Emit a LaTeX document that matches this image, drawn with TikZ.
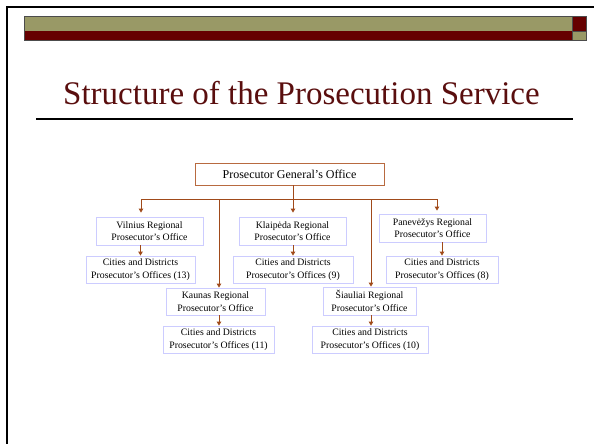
\documentclass[tikz,border=0pt]{standalone}
\usepackage{fontspec}
\setmainfont{Liberation Serif}
\usetikzlibrary{arrows.meta}
\definecolor{olive}{HTML}{999966}
\definecolor{darkred}{HTML}{660000}
\definecolor{titlered}{HTML}{5A0E0E}
\definecolor{conn}{HTML}{A04A1A}
\definecolor{topborder}{HTML}{B86A40}
\definecolor{boxborder}{HTML}{CCCCFF}
\begin{document}
\begin{tikzpicture}[x=1pt,y=-1pt,
  topbox/.style={draw=topborder,line width=0.8pt,minimum width=189pt,minimum height=22pt,inner sep=0pt,font=\fontsize{12}{14}\selectfont},
  orgbox/.style={draw=boxborder,line width=0.8pt,inner sep=0pt,align=center,font=\fontsize{9.8}{12.5}\selectfont},
  conline/.style={draw=conn,line width=0.9pt},
  arr/.style={conline,-{Triangle[length=4pt,width=4.5pt]}}]
\useasboundingbox (0,0) rectangle (594,444);
% frame
\draw[line width=2pt] (7,444) -- (7,7) -- (594,7);
% header bar
\fill[olive] (24,16) rectangle (572,31);
\fill[darkred] (24,31) rectangle (572,40);
\fill[darkred] (572,16) rectangle (586,31);
\fill[olive] (572,31) rectangle (586,40);
\draw[line width=0.4pt,black!70] (24,16) rectangle (586,40);
\draw[line width=0.4pt,black!70] (572,16) -- (572,40) (572,31) -- (586,31);
% title
\node[anchor=base west,inner sep=0pt,text=titlered,font=\fontsize{33}{36}\selectfont] (title) at (63,104) {Structure of the Prosecution Service};
\draw[line width=1.2pt] (36,119) -- (573,119);
% nodes
\node[topbox] (top) at (289.5,174) {Prosecutor General’s Office};
\node[orgbox,minimum width=107pt,minimum height=28pt] (vil) at (149.5,231) {Vilnius Regional\\Prosecutor’s Office};
\node[orgbox,minimum width=109pt,minimum height=27pt] (vilc) at (140.5,269.5) {Cities and Districts\\Prosecutor’s Offices (13)};
\node[orgbox,minimum width=107pt,minimum height=28pt] (kla) at (292.5,231) {Klaipėda Regional\\Prosecutor’s Office};
\node[orgbox,minimum width=120pt,minimum height=27pt] (klac) at (293,269.5) {Cities and Districts\\Prosecutor’s Offices (9)};
\node[orgbox,minimum width=107pt,minimum height=28pt] (pan) at (432.5,228) {Panevėžys Regional\\Prosecutor’s Office};
\node[orgbox,minimum width=112pt,minimum height=27pt] (panc) at (442,269.5) {Cities and Districts\\Prosecutor’s Offices (8)};
\node[orgbox,minimum width=99pt,minimum height=27pt] (kau) at (215.5,301.5) {Kaunas Regional\\Prosecutor’s Office};
\node[orgbox,minimum width=111pt,minimum height=27pt] (kauc) at (218.5,339.5) {Cities and Districts\\Prosecutor’s Offices (11)};
\node[orgbox,minimum width=93pt,minimum height=28pt] (sia) at (369.5,301) {Šiauliai Regional\\Prosecutor’s Office};
\node[orgbox,minimum width=116pt,minimum height=27pt] (siac) at (370,339.5) {Cities and Districts\\Prosecutor’s Offices (10)};
% junctions
\coordinate (h1) at (141,199);
\coordinate (hk) at (219,199);
\coordinate (hs) at (371,199);
\coordinate (h2) at (437,199);
% connectors
\draw[conline] (h1) -- (h2);
\draw[arr,shorten >=4pt] (top.south -| 293,0) -- (293,0 |- kla.north);
\draw[arr,shorten >=4pt] (h1) -- (h1 |- vil.north);
\draw[arr,shorten >=3pt] (h2) -- (h2 |- pan.north);
\draw[arr] (hk) -- (hk |- kau.north);
\draw[arr] (hs) -- (hs |- sia.north);
\draw[arr] (vil.south -| vilc.north) -- (vilc.north);
\draw[arr] (kla.south -| klac.north) -- (klac.north);
\draw[arr] (pan.south -| 442,0) -- (442,0 |- panc.north);
\draw[arr] (kau.south -| hk) -- (hk |- kauc.north);
\draw[arr] (sia.south -| hs) -- (hs |- siac.north);
\end{tikzpicture}
\end{document}
